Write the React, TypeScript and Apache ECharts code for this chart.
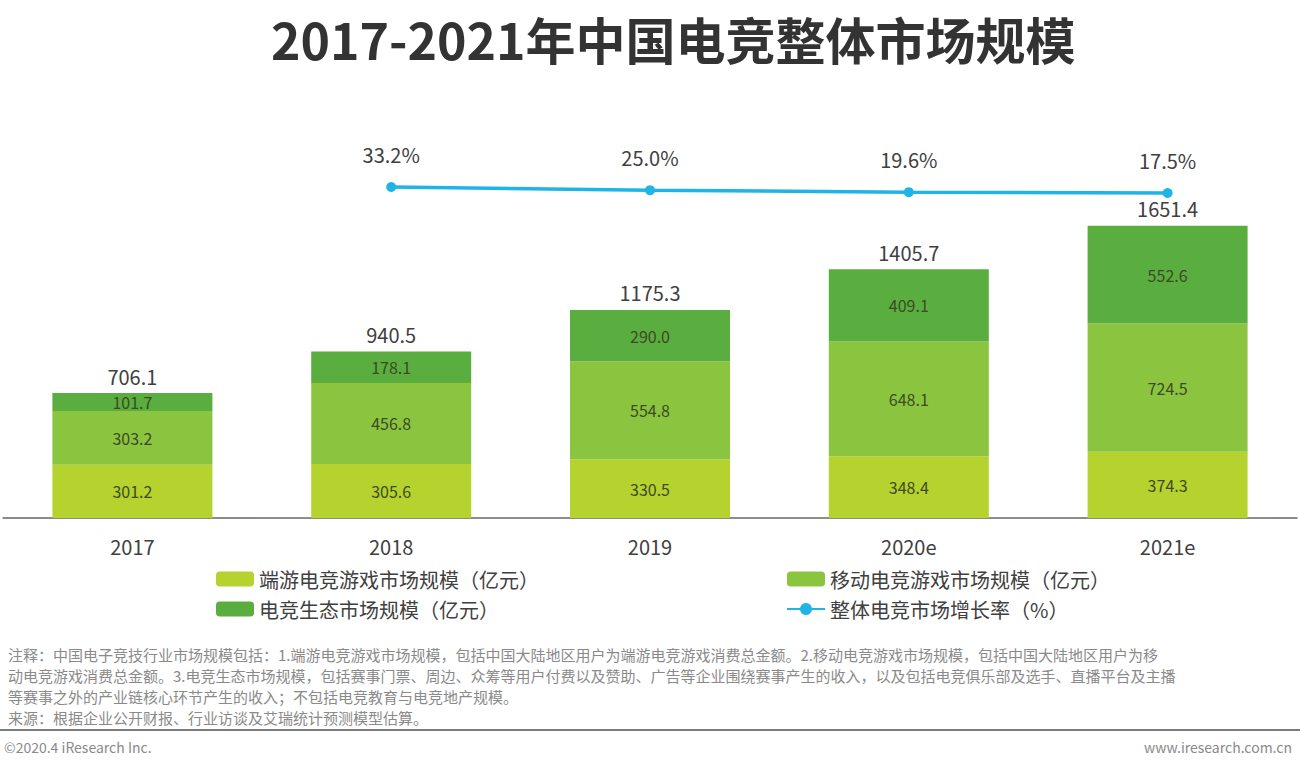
import React, { useEffect, useRef } from "react";
import * as echarts from "echarts";

const categories = ["2017", "2018", "2019", "2020e", "2021e"];
const pcGame = [301.2, 305.6, 330.5, 348.4, 374.3];
const mobileGame = [303.2, 456.8, 554.8, 648.1, 724.5];
const ecosystem = [101.7, 178.1, 290.0, 409.1, 552.6];
const totals = [706.1, 940.5, 1175.3, 1405.7, 1651.4];
const growth: (number | string)[] = ["-", 33.2, 25.0, 19.6, 17.5];

const seriesNames = [
  "端游电竞游戏市场规模（亿元）",
  "移动电竞游戏市场规模（亿元）",
  "电竞生态市场规模（亿元）",
  "整体电竞市场增长率（%）",
];

const noteLines = [
  "注释：中国电子竞技行业市场规模包括：1.端游电竞游戏市场规模，包括中国大陆地区用户为端游电竞游戏消费总金额。2.移动电竞游戏市场规模，包括中国大陆地区用户为移",
  "动电竞游戏消费总金额。3.电竞生态市场规模，包括赛事门票、周边、众筹等用户付费以及赞助、广告等企业围绕赛事产生的收入，以及包括电竞俱乐部及选手、直播平台及主播",
  "等赛事之外的产业链核心环节产生的收入；不包括电竞教育与电竞地产规模。",
  "来源：根据企业公开财报、行业访谈及艾瑞统计预测模型估算。",
];

const FONT = '"Noto Sans CJK SC", "Noto Sans", sans-serif';

export default function App() {
  const ref = useRef<HTMLDivElement>(null);
  useEffect(() => {
    if (!ref.current) return;
    const chart = echarts.init(ref.current, undefined, { renderer: "svg" });
    const barLabel = {
      show: true,
      position: "inside",
      color: "#3d4a22",
      fontSize: 16,
      lineHeight: 16,
      fontFamily: FONT,
      formatter: (p: any) => Number(p.value).toFixed(1),
    };
    const noteY = [654, 675, 696, 717];
    chart.setOption({
      animation: false,
      backgroundColor: "#ffffff",
      textStyle: { fontFamily: FONT },
      title: {
        text: "2017-2021年中国电竞整体市场规模",
        left: 266,
        top: 8,
        textStyle: { fontSize: 50, fontWeight: "bold", color: "#333333", fontFamily: FONT },
      },
      grid: { left: 3, right: 3, top: 164, bottom: 248 },
      legend: [
        {
          data: [seriesNames[0], seriesNames[2]],
          orient: "vertical",
          left: 211,
          top: 564,
          itemWidth: 38,
          itemHeight: 15,
          itemGap: 10,
          textStyle: { fontSize: 20, color: "#404040", fontFamily: FONT },
        },
        {
          data: [seriesNames[1], seriesNames[3]],
          orient: "vertical",
          left: 781,
          top: 564,
          itemWidth: 38,
          itemHeight: 15,
          itemGap: 10,
          textStyle: { fontSize: 20, color: "#404040", fontFamily: FONT },
        },
      ],
      xAxis: {
        type: "category",
        data: categories,
        axisLine: { lineStyle: { color: "#666666", width: 1.5 } },
        axisTick: { show: false },
        axisLabel: { fontSize: 20, color: "#404040", margin: 18, fontFamily: FONT },
      },
      yAxis: [
        { type: "value", min: 0, max: 2000, show: false, splitLine: { show: false } },
        { type: "value", min: -833.3, max: 93.4, show: false, splitLine: { show: false } },
      ],
      series: [
        {
          name: seriesNames[0],
          type: "bar",
          stack: "total",
          data: pcGame,
          barWidth: 160,
          itemStyle: { color: "#b5d22e" },
          label: barLabel,
        },
        {
          name: seriesNames[1],
          type: "bar",
          stack: "total",
          data: mobileGame,
          barWidth: 160,
          itemStyle: { color: "#8bc53f" },
          label: barLabel,
        },
        {
          name: seriesNames[2],
          type: "bar",
          stack: "total",
          data: ecosystem,
          barWidth: 160,
          itemStyle: { color: "#5aae3f" },
          label: barLabel,
        },
        {
          name: "总计",
          type: "line",
          data: totals,
          symbol: "circle",
          symbolSize: 0,
          showSymbol: true,
          itemStyle: { color: "transparent" },
          lineStyle: { opacity: 0 },
          silent: true,
          z: 10,
          label: {
            show: true,
            position: "top",
            distance: 7,
            fontSize: 20,
            lineHeight: 20,
            color: "#404040",
            fontFamily: FONT,
            formatter: (p: any) => Number(p.value).toFixed(1),
          },
        },
        {
          name: seriesNames[3],
          type: "line",
          yAxisIndex: 1,
          data: growth,
          symbol: "circle",
          symbolSize: 10,
          itemStyle: { color: "#1eb4e6" },
          lineStyle: { color: "#1eb4e6", width: 3.5 },
          label: {
            show: true,
            position: "top",
            distance: 18,
            fontSize: 20,
            color: "#404040",
            fontFamily: FONT,
            formatter: (p: any) => Number(p.value).toFixed(1) + "%",
          },
        },
      ],
      graphic: [
        ...noteLines.map((t, i) => ({
          type: "text",
          left: 8,
          top: noteY[i] - 8,
          style: { text: t, fontSize: 15, lineHeight: 16, fill: "#8a8a8a", fontFamily: FONT },
        })),
        {
          type: "line",
          shape: { x1: 0, y1: 730, x2: 1300, y2: 730 },
          style: { stroke: "#7a7a7a", lineWidth: 2 },
        },
        {
          type: "text",
          left: 4,
          top: 740,
          style: { text: "©2020.4 iResearch Inc.", fontSize: 14, fill: "#8a8a8a", fontFamily: FONT },
        },
        {
          type: "text",
          right: 8,
          top: 740,
          style: { text: "www.iresearch.com.cn", fontSize: 14, fill: "#8a8a8a", fontFamily: FONT },
        },
      ],
    });
    return () => chart.dispose();
  }, []);
  return (
    <div
      ref={ref}
      style={{ position: "fixed", left: 0, top: 0, width: 1300, height: 766 }}
    />
  );
}
